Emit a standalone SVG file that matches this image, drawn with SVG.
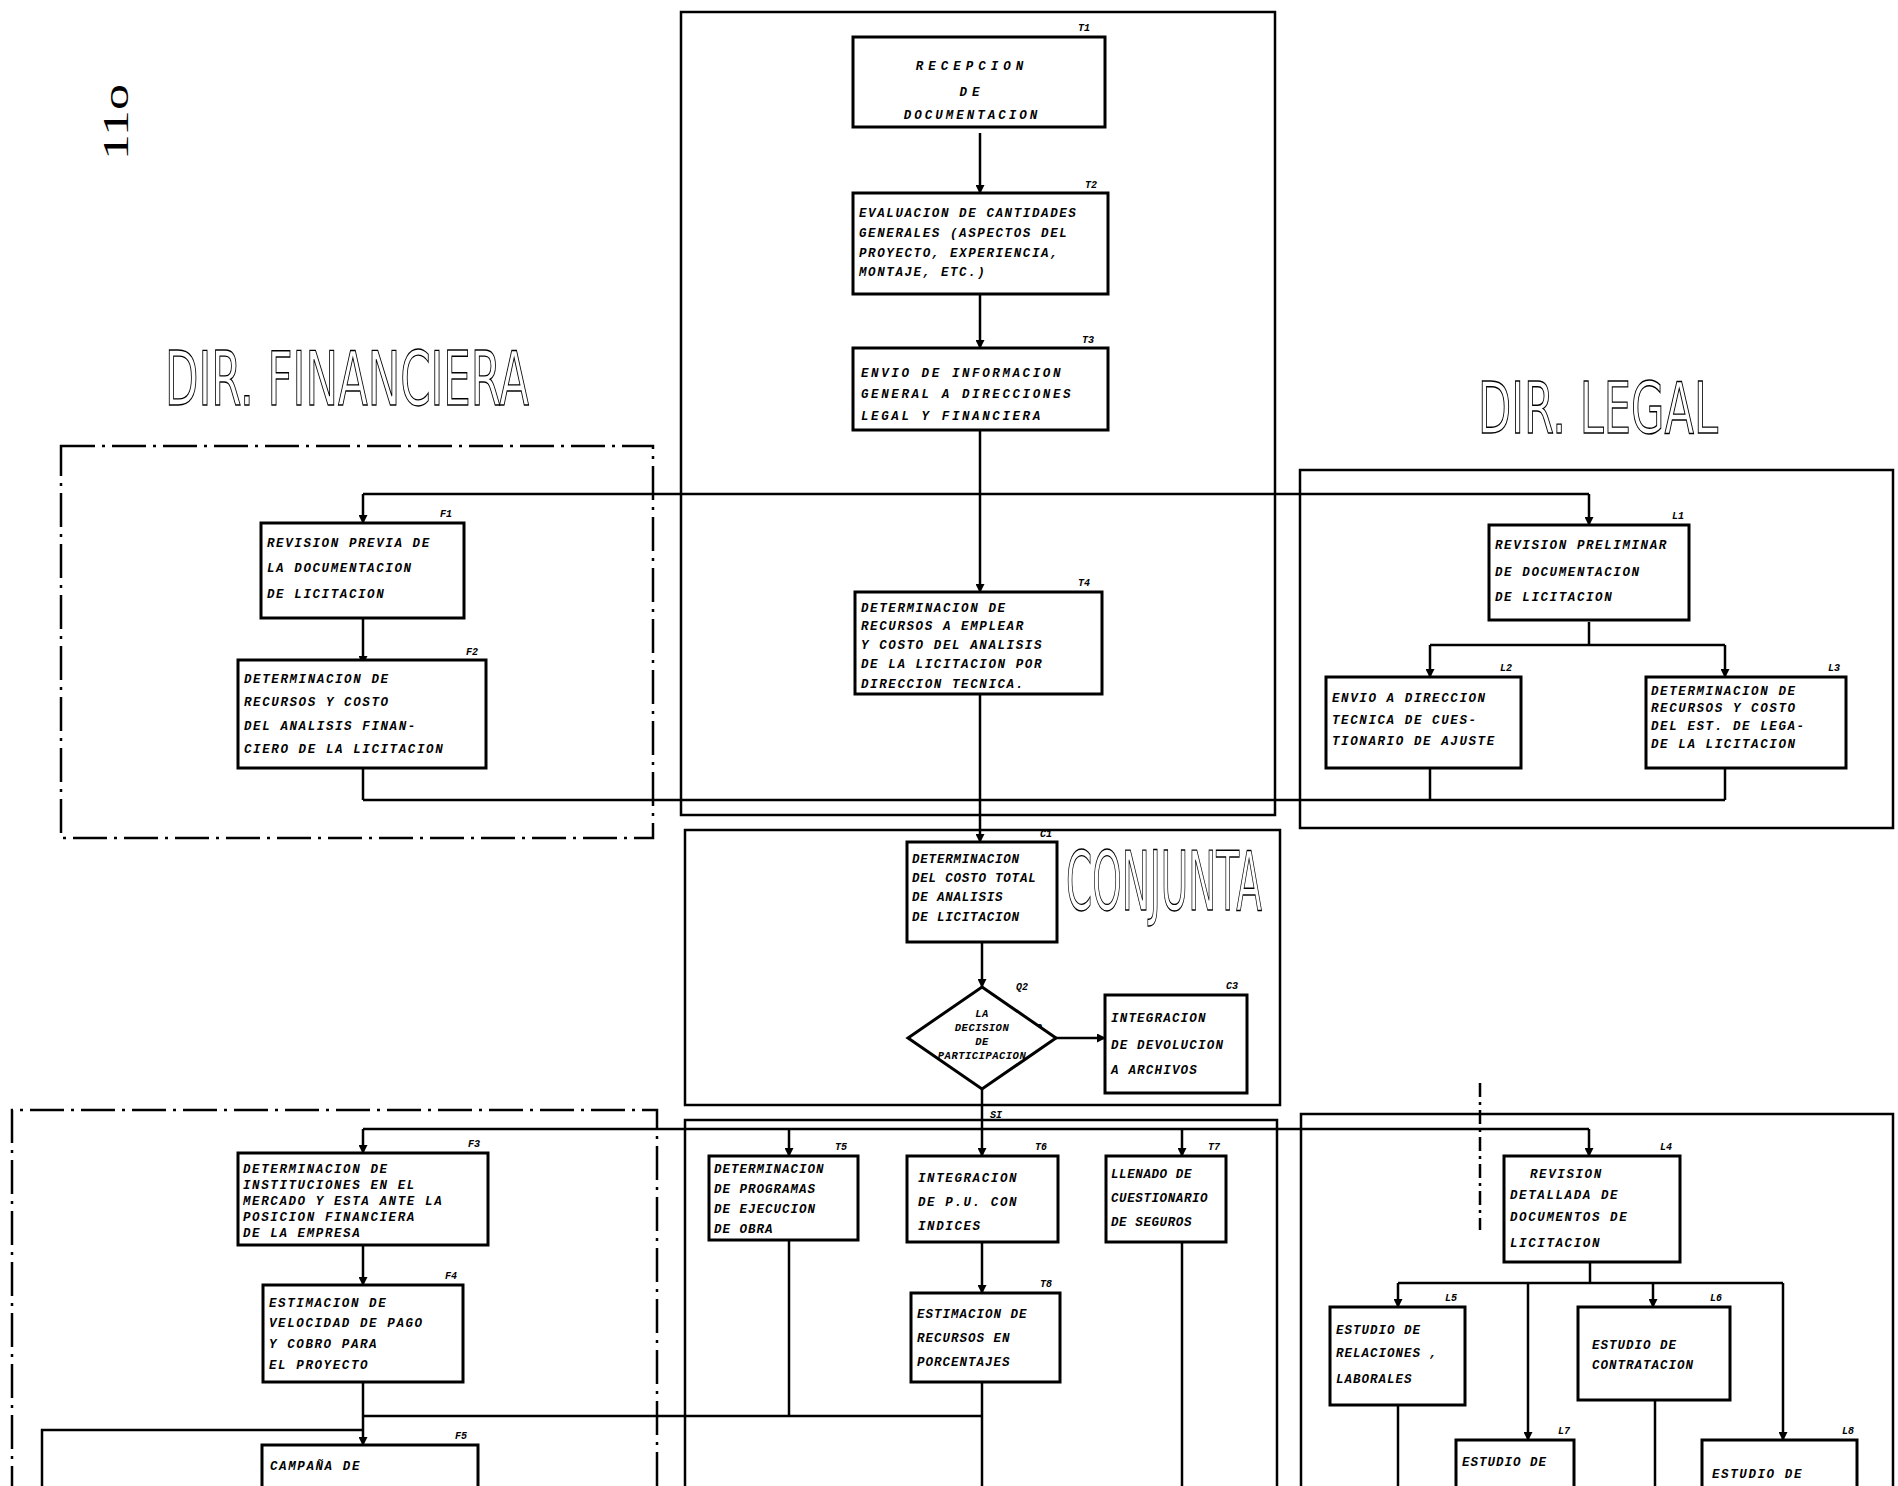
<svg xmlns="http://www.w3.org/2000/svg" width="1898" height="1486" viewBox="0 0 1898 1486">
  <style>
    .box{fill:#fff;stroke:#000;stroke-width:3}
    .frame{fill:none;stroke:#000;stroke-width:2.5}
    .dframe{fill:none;stroke:#000;stroke-width:2.5;stroke-dasharray:34 7 3 7}
    .wire{fill:none;stroke:#000;stroke-width:2.5}
    .dwire{fill:none;stroke:#000;stroke-width:2.5;stroke-dasharray:14 5 3 5}
    .t{font-family:"Liberation Mono",monospace;font-weight:bold;font-style:italic;font-size:12.5px;letter-spacing:1.6px;fill:#000}
    .ts{font-family:"Liberation Mono",monospace;font-weight:bold;font-style:italic;font-size:10.5px;letter-spacing:0.5px;fill:#000}
    .tag{font-family:"Liberation Mono",monospace;font-weight:bold;font-style:italic;font-size:10px;fill:#000}
    .title{font-family:"DejaVu Sans",sans-serif;fill:none;stroke:#000;stroke-width:1.4}
    .c{text-anchor:middle}
  </style>
  <defs>
    <marker id="ah" markerWidth="9" markerHeight="9" refX="8" refY="4.5" orient="auto" markerUnits="userSpaceOnUse">
      <path d="M0,0 L9,4.5 L0,9 z" fill="#000"/>
    </marker>
  </defs>
  <rect width="1898" height="1486" fill="#fff"/>

  <!-- page number and area titles -->
  <text transform="translate(128,160) rotate(-90)" x="0" y="0" style="font-family:'Liberation Serif',serif;font-size:36px;fill:#000" textLength="76" lengthAdjust="spacingAndGlyphs">11o</text>
  <text class="title" x="165" y="405" font-size="75" textLength="364" lengthAdjust="spacingAndGlyphs">DIR. FINANCIERA</text>
  <text class="title" x="1478" y="433" font-size="71" textLength="240" lengthAdjust="spacingAndGlyphs">DIR. LEGAL</text>
  <text class="title" x="1066" y="910" font-size="82" textLength="196" lengthAdjust="spacingAndGlyphs">CONJUNTA</text>

  <!-- area frames -->
  <g id="frames">
    <rect class="frame" x="681" y="12" width="594" height="803"/>
    <rect class="dframe" x="61" y="446" width="592" height="392"/>
    <rect class="frame" x="1300" y="470" width="593" height="358"/>
    <rect class="frame" x="685" y="830" width="595" height="275"/>
    <path class="dframe" d="M12,1500 V1110 H657 V1500"/>
    <path class="frame" d="M685,1500 V1120 H1277 V1500"/>
    <path class="frame" d="M1301,1500 V1114 H1893 V1500"/>
    <path class="frame" d="M42,1500 V1430 H363"/>
    <path class="dwire" d="M1480,1083 V1230"/>
  </g>

  <!-- connectors -->
  <g id="connectors">
    <path class="wire" d="M980,133 V193" marker-end="url(#ah)"/>
    <path class="wire" d="M980,294 V348" marker-end="url(#ah)"/>
    <path class="wire" d="M980,430 V592" marker-end="url(#ah)"/>
    <path class="wire" d="M363,494 H1589"/>
    <path class="wire" d="M363,494 V523" marker-end="url(#ah)"/>
    <path class="wire" d="M363,618 V664" marker-end="url(#ah)"/>
    <path class="wire" d="M363,768 V800"/>
    <path class="wire" d="M1589,494 V525" marker-end="url(#ah)"/>
    <path class="wire" d="M1589,622 V645"/>
    <path class="wire" d="M1430,645 H1725"/>
    <path class="wire" d="M1430,645 V677" marker-end="url(#ah)"/>
    <path class="wire" d="M1725,645 V677" marker-end="url(#ah)"/>
    <path class="wire" d="M1430,768 V800"/>
    <path class="wire" d="M1725,768 V800"/>
    <path class="wire" d="M363,800 H1725"/>
    <path class="wire" d="M980,694 V842" marker-end="url(#ah)"/>
    <path class="wire" d="M982,942 V987" marker-end="url(#ah)"/>
    <path class="wire" d="M1056,1038 H1105" marker-end="url(#ah)"/>
    <path class="wire" d="M982,1089 V1129"/>
    <path class="wire" d="M363,1129 H1589"/>
    <path class="wire" d="M363,1129 V1153" marker-end="url(#ah)"/>
    <path class="wire" d="M789,1129 V1156" marker-end="url(#ah)"/>
    <path class="wire" d="M982,1129 V1156" marker-end="url(#ah)"/>
    <path class="wire" d="M1182,1129 V1156" marker-end="url(#ah)"/>
    <path class="wire" d="M1589,1129 V1156" marker-end="url(#ah)"/>
    <path class="wire" d="M363,1245 V1285" marker-end="url(#ah)"/>
    <path class="wire" d="M363,1382 V1445" marker-end="url(#ah)"/>
    <path class="wire" d="M363,1416 H982"/>
    <path class="wire" d="M789,1240 V1416"/>
    <path class="wire" d="M982,1242 V1293" marker-end="url(#ah)"/>
    <path class="wire" d="M982,1382 V1486"/>
    <path class="wire" d="M1182,1242 V1486"/>
    <path class="wire" d="M1590,1262 V1283"/>
    <path class="wire" d="M1398,1283 H1783"/>
    <path class="wire" d="M1398,1283 V1307" marker-end="url(#ah)"/>
    <path class="wire" d="M1528,1283 V1440" marker-end="url(#ah)"/>
    <path class="wire" d="M1653,1283 V1307" marker-end="url(#ah)"/>
    <path class="wire" d="M1783,1283 V1440" marker-end="url(#ah)"/>
    <path class="wire" d="M1398,1405 V1486"/>
    <path class="wire" d="M1655,1400 V1486"/>
    <text class="tag" x="1030" y="1031">NO</text>
    <text class="tag" x="990" y="1118">SI</text>
  </g>

  <!-- central column: technical direction -->
  <g id="t1">
    <rect class="box" x="853" y="37" width="252" height="90"/>
    <text class="tag" x="1078" y="31">T1</text>
    <text class="t c" x="972" y="70" style="letter-spacing:5px">RECEPCION</text>
    <text class="t c" x="972" y="96" style="letter-spacing:5px">DE</text>
    <text class="t c" x="972" y="119" style="letter-spacing:3px">DOCUMENTACION</text>
  </g>
  <g id="t2">
    <rect class="box" x="853" y="193" width="255" height="101"/>
    <text class="tag" x="1085" y="188">T2</text>
    <text class="t" x="859" y="217">EVALUACION DE CANTIDADES</text>
    <text class="t" x="859" y="237">GENERALES (ASPECTOS DEL</text>
    <text class="t" x="859" y="257">PROYECTO, EXPERIENCIA,</text>
    <text class="t" x="859" y="276">MONTAJE, ETC.)</text>
  </g>
  <g id="t3">
    <rect class="box" x="853" y="348" width="255" height="82"/>
    <text class="tag" x="1082" y="343">T3</text>
    <text class="t" x="861" y="377" style="letter-spacing:2.6px">ENVIO  DE  INFORMACION</text>
    <text class="t" x="861" y="398" style="letter-spacing:2.6px">GENERAL A DIRECCIONES</text>
    <text class="t" x="861" y="420" style="letter-spacing:2.6px">LEGAL  Y  FINANCIERA</text>
  </g>
  <g id="t4">
    <rect class="box" x="855" y="592" width="247" height="102"/>
    <text class="tag" x="1078" y="586">T4</text>
    <text class="t" x="861" y="612">DETERMINACION   DE</text>
    <text class="t" x="861" y="630">RECURSOS A EMPLEAR</text>
    <text class="t" x="861" y="649">Y COSTO DEL ANALISIS</text>
    <text class="t" x="861" y="668">DE LA LICITACION POR</text>
    <text class="t" x="861" y="688">DIRECCION  TECNICA.</text>
  </g>

  <!-- financial direction, first stage -->
  <g id="f1">
    <rect class="box" x="261" y="523" width="203" height="95"/>
    <text class="tag" x="440" y="517">F1</text>
    <text class="t" x="267" y="547">REVISION PREVIA DE</text>
    <text class="t" x="267" y="572">LA  DOCUMENTACION</text>
    <text class="t" x="267" y="598">DE    LICITACION</text>
  </g>
  <g id="f2">
    <rect class="box" x="238" y="660" width="248" height="108"/>
    <text class="tag" x="466" y="655">F2</text>
    <text class="t" x="244" y="683">DETERMINACION    DE</text>
    <text class="t" x="244" y="706">RECURSOS  Y  COSTO</text>
    <text class="t" x="244" y="730">DEL ANALISIS FINAN-</text>
    <text class="t" x="244" y="753">CIERO DE LA LICITACION</text>
  </g>

  <!-- legal direction, first stage -->
  <g id="l1">
    <rect class="box" x="1489" y="525" width="200" height="95"/>
    <text class="tag" x="1672" y="519">L1</text>
    <text class="t" x="1495" y="549">REVISION PRELIMINAR</text>
    <text class="t" x="1495" y="576">DE  DOCUMENTACION</text>
    <text class="t" x="1495" y="601">DE   LICITACION</text>
  </g>
  <g id="l2">
    <rect class="box" x="1326" y="677" width="195" height="91"/>
    <text class="tag" x="1500" y="671">L2</text>
    <text class="t" x="1332" y="702">ENVIO A DIRECCION</text>
    <text class="t" x="1332" y="724">TECNICA DE CUES-</text>
    <text class="t" x="1332" y="745">TIONARIO DE AJUSTE</text>
  </g>
  <g id="l3">
    <rect class="box" x="1646" y="677" width="200" height="91"/>
    <text class="tag" x="1828" y="671">L3</text>
    <text class="t" x="1651" y="695">DETERMINACION  DE</text>
    <text class="t" x="1651" y="712">RECURSOS Y COSTO</text>
    <text class="t" x="1651" y="730">DEL EST. DE LEGA-</text>
    <text class="t" x="1651" y="748">DE LA LICITACION</text>
  </g>

  <!-- joint stage -->
  <g id="c1">
    <rect class="box" x="907" y="842" width="150" height="100"/>
    <text class="tag" x="1040" y="837">C1</text>
    <text class="t" x="912" y="863" style="letter-spacing:0.8px">DETERMINACION</text>
    <text class="t" x="912" y="882" style="letter-spacing:0.8px">DEL COSTO TOTAL</text>
    <text class="t" x="912" y="901" style="letter-spacing:0.8px">DE  ANALISIS</text>
    <text class="t" x="912" y="921" style="letter-spacing:0.8px">DE  LICITACION</text>
  </g>
  <g id="q2">
    <path class="box" d="M982,987 L1056,1038 L982,1089 L908,1038 Z"/>
    <text class="tag" x="1016" y="990">Q2</text>
    <text class="ts c" x="982" y="1017">LA</text>
    <text class="ts c" x="982" y="1031">DECISION</text>
    <text class="ts c" x="982" y="1045">DE</text>
    <text class="ts c" x="982" y="1059">PARTICIPACION</text>
  </g>
  <g id="c3">
    <rect class="box" x="1105" y="995" width="142" height="98"/>
    <text class="tag" x="1226" y="989">C3</text>
    <text class="t" x="1111" y="1022" style="letter-spacing:1.2px">INTEGRACION</text>
    <text class="t" x="1111" y="1049" style="letter-spacing:1.2px">DE  DEVOLUCION</text>
    <text class="t" x="1111" y="1074" style="letter-spacing:1.2px">A  ARCHIVOS</text>
  </g>

  <!-- financial direction, second stage -->
  <g id="f3">
    <rect class="box" x="238" y="1153" width="250" height="92"/>
    <text class="tag" x="468" y="1147">F3</text>
    <text class="t" x="243" y="1173">DETERMINACION     DE</text>
    <text class="t" x="243" y="1189">INSTITUCIONES  EN  EL</text>
    <text class="t" x="243" y="1205">MERCADO Y ESTA ANTE LA</text>
    <text class="t" x="243" y="1221">POSICION  FINANCIERA</text>
    <text class="t" x="243" y="1237">DE  LA  EMPRESA</text>
  </g>
  <g id="f4">
    <rect class="box" x="263" y="1285" width="200" height="97"/>
    <text class="tag" x="445" y="1279">F4</text>
    <text class="t" x="269" y="1307">ESTIMACION    DE</text>
    <text class="t" x="269" y="1327">VELOCIDAD DE PAGO</text>
    <text class="t" x="269" y="1348">Y  COBRO   PARA</text>
    <text class="t" x="269" y="1369">EL  PROYECTO</text>
  </g>
  <g id="f5">
    <rect class="box" x="262" y="1445" width="216" height="60"/>
    <text class="tag" x="455" y="1439">F5</text>
    <text class="t" x="270" y="1470">CAMPAÑA    DE</text>
  </g>

  <!-- technical direction, second stage -->
  <g id="t5">
    <rect class="box" x="709" y="1156" width="149" height="84"/>
    <text class="tag" x="835" y="1150">T5</text>
    <text class="t" x="714" y="1173" style="letter-spacing:1px">DETERMINACION</text>
    <text class="t" x="714" y="1193" style="letter-spacing:1px">DE  PROGRAMAS</text>
    <text class="t" x="714" y="1213" style="letter-spacing:1px">DE EJECUCION</text>
    <text class="t" x="714" y="1233" style="letter-spacing:1px">DE  OBRA</text>
  </g>
  <g id="t6">
    <rect class="box" x="907" y="1156" width="151" height="86"/>
    <text class="tag" x="1035" y="1150">T6</text>
    <text class="t" x="918" y="1182">INTEGRACION</text>
    <text class="t" x="918" y="1206">DE P.U. CON</text>
    <text class="t" x="918" y="1230">INDICES</text>
  </g>
  <g id="t7">
    <rect class="box" x="1106" y="1156" width="120" height="86"/>
    <text class="tag" x="1208" y="1150">T7</text>
    <text class="t" x="1111" y="1178" style="letter-spacing:0.6px">LLENADO  DE</text>
    <text class="t" x="1111" y="1202" style="letter-spacing:0.6px">CUESTIONARIO</text>
    <text class="t" x="1111" y="1226" style="letter-spacing:0.6px">DE  SEGUROS</text>
  </g>
  <g id="t8">
    <rect class="box" x="911" y="1293" width="149" height="89"/>
    <text class="tag" x="1040" y="1287">T8</text>
    <text class="t" x="917" y="1318" style="letter-spacing:1px">ESTIMACION  DE</text>
    <text class="t" x="917" y="1342" style="letter-spacing:1px">RECURSOS   EN</text>
    <text class="t" x="917" y="1366" style="letter-spacing:1px">PORCENTAJES</text>
  </g>

  <!-- legal direction, second stage -->
  <g id="l4">
    <rect class="box" x="1504" y="1156" width="176" height="106"/>
    <text class="tag" x="1660" y="1150">L4</text>
    <text class="t" x="1530" y="1178">REVISION</text>
    <text class="t" x="1510" y="1199">DETALLADA DE</text>
    <text class="t" x="1510" y="1221">DOCUMENTOS DE</text>
    <text class="t" x="1510" y="1247">LICITACION</text>
  </g>
  <g id="l5">
    <rect class="box" x="1330" y="1307" width="135" height="98"/>
    <text class="tag" x="1445" y="1301">L5</text>
    <text class="t" x="1336" y="1334" style="letter-spacing:1px">ESTUDIO  DE</text>
    <text class="t" x="1336" y="1357" style="letter-spacing:1px">RELACIONES ,</text>
    <text class="t" x="1336" y="1383" style="letter-spacing:1px">LABORALES</text>
  </g>
  <g id="l6">
    <rect class="box" x="1578" y="1307" width="152" height="93"/>
    <text class="tag" x="1710" y="1301">L6</text>
    <text class="t" x="1592" y="1349" style="letter-spacing:1px">ESTUDIO  DE</text>
    <text class="t" x="1592" y="1369" style="letter-spacing:1px">CONTRATACION</text>
  </g>
  <g id="l7">
    <rect class="box" x="1456" y="1440" width="118" height="60"/>
    <text class="tag" x="1558" y="1434">L7</text>
    <text class="t" x="1462" y="1466" style="letter-spacing:1px">ESTUDIO  DE</text>
  </g>
  <g id="l8">
    <rect class="box" x="1702" y="1440" width="155" height="60"/>
    <text class="tag" x="1842" y="1434">L8</text>
    <text class="t" x="1712" y="1478">ESTUDIO DE</text>
  </g>
</svg>
